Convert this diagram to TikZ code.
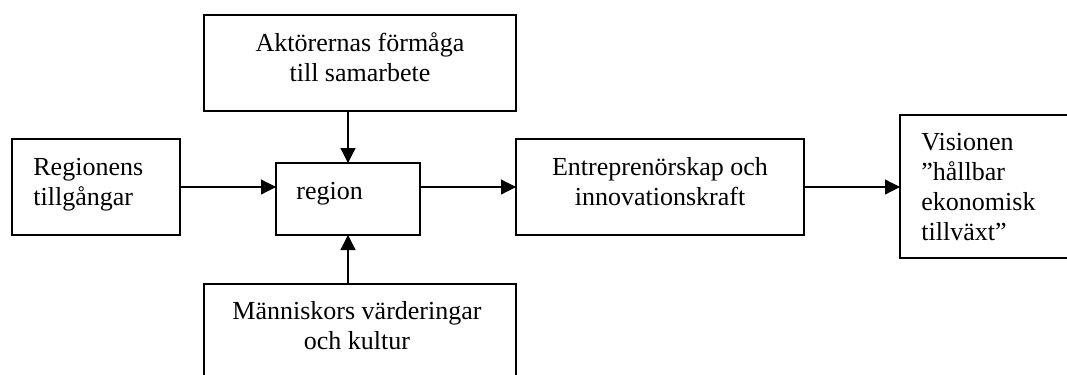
\documentclass[tikz,border=0pt]{standalone}
\usepackage{fontspec}
\setmainfont{Liberation Serif}
\usetikzlibrary{arrows.meta}
\newcommand{\flowBox}[5]{
    \node[draw, line width=0.7pt, inner sep=0pt, outer sep=0pt,
        minimum width={(#4-#2)*0.5pt}, minimum height={(#5-#3)*0.5pt}]
        (#1) at ({(#2+#4)/2}, {(#3+#5)/2}) {};
}
\newcommand{\flowText}[4][align=center, anchor=base]{
    \node[inner sep=0pt, #1] (#2) at (#3) {#4};
}

\begin{document}
\begin{tikzpicture}[x=0.5pt, y=-0.5pt,
    every node/.style={font=\fontsize{13}{15}\selectfont},
    arr/.style={-{Triangle[length=7.5pt, width=7.5pt]}, line width=0.6pt}]
	\useasboundingbox (0,0) rectangle (1067,375);
	\clip (0,0) rectangle (1067,375);

	\flowBox{aktor}{204}{15}{516}{111};
	\flowBox{regionens}{12}{139}{180}{235};
	\flowBox{region}{276}{163}{420}{235};
	\flowBox{manniskor}{204}{284}{516}{400};
	\flowBox{entr}{516}{139}{804}{235};
	\flowBox{vision}{900}{115}{1100}{258};

	% base = baseline of the last line
	\flowText{aktorText}{360,82}{Aktörernas förmåga\\till samarbete};
	\flowText[align=left, anchor=base west]{regionensText}{33,205}{Regionens\\tillgångar};
	\flowText[anchor=base west]{regionText}{296,199}{region};
	\flowText{manniskorText}{357,349}{Människors värderingar\\och kultur};
	\flowText{entrText}{660,205}{Entreprenörskap och\\innovationskraft};
	\flowText[align=left, anchor=base west]{visionText}{921,240}{Visionen\\”hållbar\\ekonomisk\\tillväxt”};

	\draw[arr] (regionens.east) -- (regionens.east -| region.west);
	\draw[arr] (aktor.south -| region.north) -- (region.north);
	\draw[arr] (manniskor.north -| region.south) -- (region.south);
	\draw[arr] (region.east |- entr.west) -- (entr.west);
	\draw[arr] (entr.east) -- (entr.east -| vision.west);
\end{tikzpicture}
\end{document}
